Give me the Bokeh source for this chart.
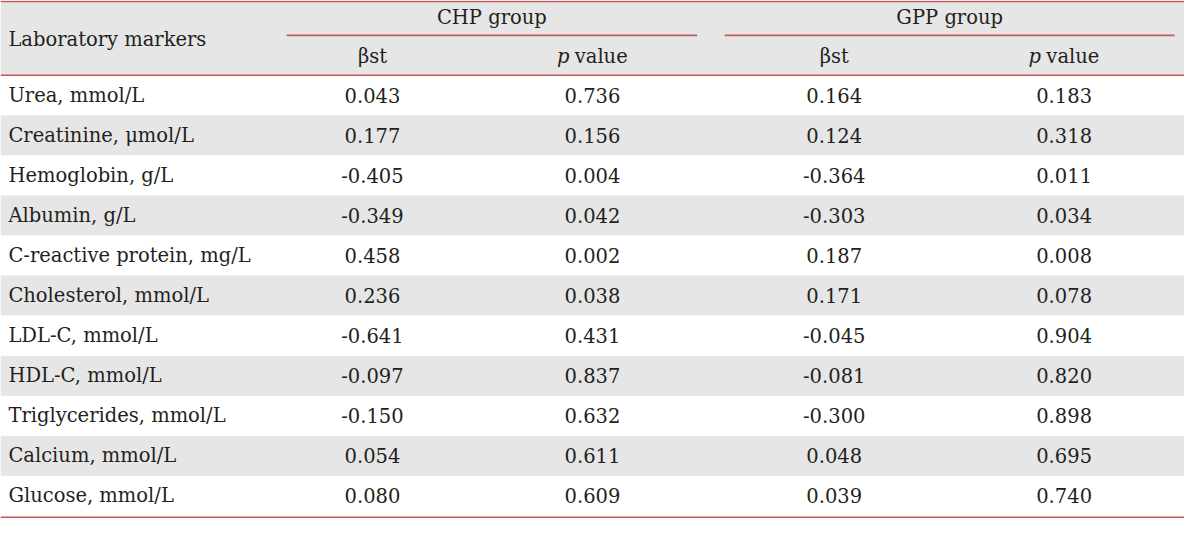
from bokeh.plotting import figure
from bokeh.models import Range1d, ColumnDataSource
from bokeh.core.properties import value
from bokeh.embed import file_html
from bokeh.resources import INLINE

# ---- data ----
markers = ["Urea, mmol/L", "Creatinine, μmol/L", "Hemoglobin, g/L", "Albumin, g/L",
           "C-reactive protein, mg/L", "Cholesterol, mmol/L", "LDL-C, mmol/L",
           "HDL-C, mmol/L", "Triglycerides, mmol/L", "Calcium, mmol/L", "Glucose, mmol/L"]
chp_beta = [0.043, 0.177, -0.405, -0.349, 0.458, 0.236, -0.641, -0.097, -0.150, 0.054, 0.080]
chp_p = [0.736, 0.156, 0.004, 0.042, 0.002, 0.038, 0.431, 0.837, 0.632, 0.611, 0.609]
gpp_beta = [0.164, 0.124, -0.364, -0.303, 0.187, 0.171, -0.045, -0.081, -0.300, 0.048, 0.039]
gpp_p = [0.183, 0.318, 0.011, 0.034, 0.008, 0.078, 0.904, 0.820, 0.898, 0.695, 0.740]
header_label = "Laboratory markers"
groups = ["CHP group", "GPP group"]
beta_label = "βst"
p_label = "p"
value_label = "value"

# ---- layout (in reference pixel space) ----
W, H = 1200, 534
HEAD_BOTTOM = 77.0
ROW_H = 41.3
FONT = "DejaVu Serif"
FS = "19.5px"
RED = "#c4585b"
GREY = "#e6e6e6"
TEXT = "#231f20"

label_x = 8
col_cx = [377, 600, 845, 1078]
group_spans = [(290, 706), (734, 1190)]

p = figure(width=1184, height=518, x_range=Range1d(0, W), y_range=Range1d(H, 0),
           output_backend="svg", toolbar_location=None, min_border=0)
p.axis.visible = False
p.grid.visible = False
p.outline_line_color = None
p.background_fill_color = "white"
p.border_fill_color = "white"

n = len(markers)
tops = [HEAD_BOTTOM + i * ROW_H for i in range(n)]
mids = [t + ROW_H / 2 for t in tops]

# header background
p.quad(left=[0], right=[W], top=[1.5], bottom=[HEAD_BOTTOM], fill_color=GREY, line_color=None)
# alternating grey rows
gi = [i for i in range(n) if i % 2 == 1]
p.quad(left=[0] * len(gi), right=[W] * len(gi), top=[tops[i] for i in gi],
       bottom=[tops[i] + ROW_H for i in gi], fill_color=GREY, line_color=None)

# lines
bottom_y = HEAD_BOTTOM + n * ROW_H + 1.5
p.segment(x0=[0, 0, 0], x1=[W, W, W], y0=[1, HEAD_BOTTOM, bottom_y], y1=[1, HEAD_BOTTOM, bottom_y],
          line_color=RED, line_width=1.6)
p.segment(x0=[s[0] for s in group_spans], x1=[s[1] for s in group_spans], y0=[36, 36], y1=[36, 36],
          line_color=RED, line_width=1.6)

common = dict(text_font=value(FONT), text_font_size=FS, text_color=TEXT, text_baseline="middle")

# header texts
p.text(x=[label_x], y=[40], text=[header_label], text_align="left", **common)
p.text(x=[(s[0] + s[1]) / 2 for s in group_spans], y=[18, 18], text=groups, text_align="center", **common)
p.text(x=[col_cx[0], col_cx[2]], y=[58, 58], text=[beta_label, beta_label], text_align="center", **common)
p.text(x=[col_cx[1] - 36, col_cx[3] - 36], y=[58, 58], text=[p_label, p_label], text_align="left",
       text_font_style="italic", **common)
p.text(x=[col_cx[1] - 18, col_cx[3] - 18], y=[58, 58], text=[value_label, value_label], text_align="left", **common)

# body
fmt = lambda v: f"{v:.3f}"
src = ColumnDataSource(dict(y=mids, label=markers,
                            cb=[fmt(v) for v in chp_beta], cp=[fmt(v) for v in chp_p],
                            gb=[fmt(v) for v in gpp_beta], gp=[fmt(v) for v in gpp_p]))
p.text(x=label_x, y="y", text="label", source=src, text_align="left", **common)
for cx, col in zip(col_cx, ["cb", "cp", "gb", "gp"]):
    p.text(x=cx, y="y", text=col, source=src, text_align="center", **common)

open("out.html", "w").write(file_html(p, INLINE))
